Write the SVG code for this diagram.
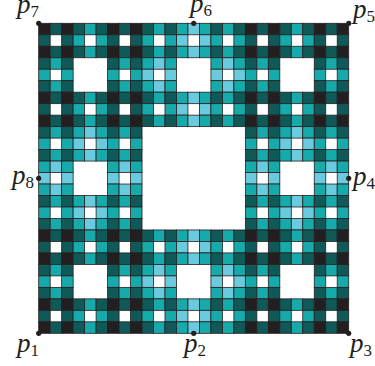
<svg xmlns="http://www.w3.org/2000/svg" width="375" height="366" viewBox="0 0 375 366">
<style>
.k{fill:#231f20}.d{fill:#0f5a58}.t{fill:#16aaaa}.l{fill:#6bcbde}
rect{stroke:#231f20;stroke-width:.8}
.dot{fill:#231f20}
text{font-family:"Liberation Serif",serif;fill:#231f20;font-size:27px}
.p{font-style:italic}
.s{font-size:17px}
</style>
<defs>
<rect id="ck" class="k" width="11.48" height="11.48"/>
<rect id="cd" class="d" width="11.48" height="11.48"/>
<rect id="ct" class="t" width="11.48" height="11.48"/>
<rect id="cl" class="l" width="11.48" height="11.48"/>
<g id="t0"><use href="#ck"/><use href="#cd" x="11.48"/><use href="#ck" x="22.96"/><use href="#cd" y="11.48"/><use href="#cd" x="22.96" y="11.48"/><use href="#ck" y="22.96"/><use href="#cd" x="11.48" y="22.96"/><use href="#ck" x="22.96" y="22.96"/></g>
<g id="t1"><use href="#cd"/><use href="#ct" x="11.48"/><use href="#cd" x="22.96"/><use href="#ct" y="11.48"/><use href="#ct" x="22.96" y="11.48"/><use href="#cd" y="22.96"/><use href="#ct" x="11.48" y="22.96"/><use href="#cd" x="22.96" y="22.96"/></g>
<g id="t2"><use href="#ct"/><use href="#cl" x="11.48"/><use href="#ct" x="22.96"/><use href="#cl" y="11.48"/><use href="#cl" x="22.96" y="11.48"/><use href="#ct" y="22.96"/><use href="#cl" x="11.48" y="22.96"/><use href="#ct" x="22.96" y="22.96"/></g>
<g id="s0"><use href="#t0"/><use href="#t1" x="34.44"/><use href="#t0" x="68.89"/><use href="#t1" y="34.44"/><use href="#t1" x="68.89" y="34.44"/><use href="#t0" y="68.89"/><use href="#t1" x="34.44" y="68.89"/><use href="#t0" x="68.89" y="68.89"/></g>
<g id="s1"><use href="#t1"/><use href="#t2" x="34.44"/><use href="#t1" x="68.89"/><use href="#t2" y="34.44"/><use href="#t2" x="68.89" y="34.44"/><use href="#t1" y="68.89"/><use href="#t2" x="34.44" y="68.89"/><use href="#t1" x="68.89" y="68.89"/></g>
</defs>
<g id="carpet" transform="translate(38.7 23.3)"><use href="#s0"/><use href="#s1" x="103.33"/><use href="#s0" x="206.67"/><use href="#s1" y="103.33"/><use href="#s1" x="206.67" y="103.33"/><use href="#s0" y="206.67"/><use href="#s1" x="103.33" y="206.67"/><use href="#s0" x="206.67" y="206.67"/></g>
<g id="p1"><circle class="dot" cx="38.7" cy="333.3" r="2.6"/><text x="17" y="352"><tspan class="p">p</tspan><tspan class="s" dy="4">1</tspan></text></g>
<g id="p2"><circle class="dot" cx="193.7" cy="333.3" r="2.6"/><text x="184" y="352"><tspan class="p">p</tspan><tspan class="s" dy="4">2</tspan></text></g>
<g id="p3"><circle class="dot" cx="348.7" cy="333.3" r="2.6"/><text x="350" y="352"><tspan class="p">p</tspan><tspan class="s" dy="4">3</tspan></text></g>
<g id="p4"><circle class="dot" cx="348.7" cy="178.3" r="2.6"/><text x="353" y="185"><tspan class="p">p</tspan><tspan class="s" dy="4">4</tspan></text></g>
<g id="p5"><circle class="dot" cx="348.7" cy="23.3" r="2.6"/><text x="353" y="18"><tspan class="p">p</tspan><tspan class="s" dy="4">5</tspan></text></g>
<g id="p6"><circle class="dot" cx="193.7" cy="23.3" r="2.6"/><text x="190" y="12"><tspan class="p">p</tspan><tspan class="s" dy="4">6</tspan></text></g>
<g id="p7"><circle class="dot" cx="38.7" cy="23.3" r="2.6"/><text x="17" y="12.5"><tspan class="p">p</tspan><tspan class="s" dy="4">7</tspan></text></g>
<g id="p8"><circle class="dot" cx="38.7" cy="178.3" r="2.6"/><text x="12" y="184"><tspan class="p">p</tspan><tspan class="s" dy="4">8</tspan></text></g>
</svg>
